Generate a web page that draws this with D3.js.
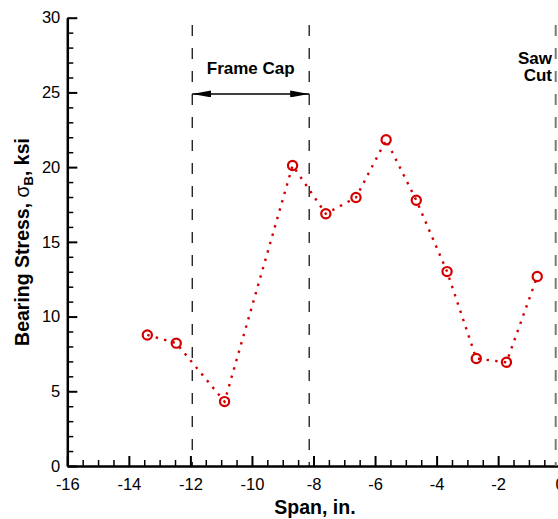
<!DOCTYPE html>
<html>
<head>
<meta charset="utf-8">
<script src="https://cdn.jsdelivr.net/npm/d3@7"></script>
<style>
  html, body { margin: 0; padding: 0; background: #fff; overflow: hidden; }
  svg { display: block; }
  text { font-family: "Liberation Sans", Arial, sans-serif; }
</style>
</head>
<body>
<svg id="chart" width="558" height="519"></svg>
<script>
// ---- data ----
const span   = [-13.40, -12.46, -10.89, -8.68, -7.60, -6.62, -5.64, -4.66, -3.66, -2.71, -1.73, -0.73];
const stress = [8.77, 8.22, 4.31, 20.11, 16.88, 17.97, 21.83, 17.78, 13.01, 7.19, 6.94, 12.68];
const xTicks = [-16, -14, -12, -10, -8, -6, -4, -2, 0];
const yTicks = [0, 5, 10, 15, 20, 25, 30];
const frameCapX = [-11.94, -8.14];
const frameCapArrowY = 24.9;
const sawCutX = -0.13;
const xTitle = "Span, in.";

// ---- layout ----
const svg = d3.select("#chart");
const x = d3.scaleLinear().domain([-16, 0]).range([67.3, 559.7]);
const y = d3.scaleLinear().domain([0, 30]).range([466, 17.7]);
const red = "#d40000";
const fmt = d => String(d);

// minor ticks
const xMinor = d3.range(-16, 0.01, 0.5).filter(v => !xTicks.includes(v));
const yMinor = d3.range(0, 30.01, 1).filter(v => !yTicks.includes(v));

const gx = svg.append("g").attr("transform", `translate(0,${y(0)})`);
gx.call(d3.axisBottom(x).tickValues(xMinor).tickSizeInner(-6).tickSizeOuter(0).tickFormat(""));
gx.selectAll(".tick line").attr("stroke", "#000").attr("stroke-width", 1.5);
gx.select(".domain").remove();
const gx2 = svg.append("g").attr("transform", `translate(0,${y(0)})`);
gx2.call(d3.axisBottom(x).tickValues(xTicks).tickSizeInner(-10).tickSizeOuter(0).tickPadding(14)
  .tickFormat(fmt));
gx2.selectAll(".tick line").attr("stroke", "#000").attr("stroke-width", 2);
gx2.selectAll(".tick text").attr("font-size", "16.5px").attr("fill", "#000")
  .attr("dy", "0").attr("y", 24);
gx2.select(".domain").attr("stroke", "#000").attr("stroke-width", 2.5);

const gy = svg.append("g").attr("transform", `translate(${x(-16)},0)`);
gy.call(d3.axisLeft(y).tickValues(yMinor).tickSizeInner(-6).tickSizeOuter(0).tickFormat(""));
gy.selectAll(".tick line").attr("stroke", "#000").attr("stroke-width", 1.5);
gy.select(".domain").remove();
const gy2 = svg.append("g").attr("transform", `translate(${x(-16)},0)`);
gy2.call(d3.axisLeft(y).tickValues(yTicks).tickSizeInner(-10).tickSizeOuter(0).tickPadding(7)
  .tickFormat(fmt));
gy2.selectAll(".tick line").attr("stroke", "#000").attr("stroke-width", 2);
gy2.selectAll(".tick text").attr("font-size", "16.5px").attr("fill", "#000").attr("x", -7);
gy2.select(".domain").attr("stroke", "#000").attr("stroke-width", 2.5);

// dashed vertical lines
const dashTop = 25;
svg.selectAll("line.fc").data(frameCapX).join("line")
  .attr("class", "fc")
  .attr("x1", d => x(d)).attr("x2", d => x(d))
  .attr("y1", dashTop).attr("y2", y(0))
  .attr("stroke", "#000").attr("stroke-width", 1.2)
  .attr("stroke-dasharray", "11 12");
svg.append("line")
  .attr("x1", x(sawCutX)).attr("x2", x(sawCutX))
  .attr("y1", dashTop).attr("y2", y(0))
  .attr("stroke", "#7a7a7a").attr("stroke-width", 2)
  .attr("stroke-dasharray", "11 12");

// Frame cap arrow
const defs = svg.append("defs");
defs.append("marker").attr("id", "ah").attr("viewBox", "0 0 19 7")
  .attr("refX", 19).attr("refY", 3.5).attr("markerWidth", 19).attr("markerHeight", 7)
  .attr("markerUnits", "userSpaceOnUse").attr("orient", "auto-start-reverse")
  .append("path").attr("d", "M0,0 L19,3.5 L0,7 Z").attr("fill", "#000");
svg.append("line")
  .attr("x1", x(frameCapX[0])).attr("x2", x(frameCapX[1]))
  .attr("y1", y(frameCapArrowY)).attr("y2", y(frameCapArrowY))
  .attr("stroke", "#000").attr("stroke-width", 1.5)
  .attr("marker-start", "url(#ah)").attr("marker-end", "url(#ah)");
svg.append("text")
  .attr("x", (x(frameCapX[0]) + x(frameCapX[1])) / 2).attr("y", 74)
  .attr("text-anchor", "middle").attr("font-weight", "bold").attr("font-size", "17px")
  .text("Frame Cap");

// Saw cut label
const saw = svg.append("text").attr("text-anchor", "end")
  .attr("font-weight", "bold").attr("font-size", "17px");
saw.append("tspan").attr("x", 552).attr("y", 64).text("Saw");
saw.append("tspan").attr("x", 552).attr("y", 80.7).text("Cut");

// data line + markers
const pts = span.map((s, i) => [s, stress[i]]);
svg.append("path")
  .attr("d", d3.line().x(d => x(d[0])).y(d => y(d[1]))(pts))
  .attr("fill", "none").attr("stroke", red).attr("stroke-width", 2.4)
  .attr("stroke-dasharray", "2.4 6.3");
svg.selectAll("circle.pt").data(pts).join("circle")
  .attr("class", "pt")
  .attr("cx", d => x(d[0])).attr("cy", d => y(d[1])).attr("r", 4.6)
  .attr("fill", "none").attr("stroke", red).attr("stroke-width", 2.2);

// axis titles
svg.append("text")
  .attr("x", (x(-16) + x(0)) / 2 + 1.5).attr("y", 514)
  .attr("text-anchor", "middle").attr("font-weight", "bold").attr("font-size", "19.5px")
  .text(xTitle);
const yt = svg.append("text")
  .attr("transform", "translate(28.5,242) rotate(-90)")
  .attr("text-anchor", "middle").attr("font-weight", "bold").attr("font-size", "19.5px");
yt.append("tspan").text("Bearing Stress, ");
yt.append("tspan").attr("font-weight", "normal").text("σ");
yt.append("tspan").attr("font-size", "13px").attr("dy", 4).text("B");
yt.append("tspan").attr("dy", -4).text(", ksi");
</script>
</body>
</html>
